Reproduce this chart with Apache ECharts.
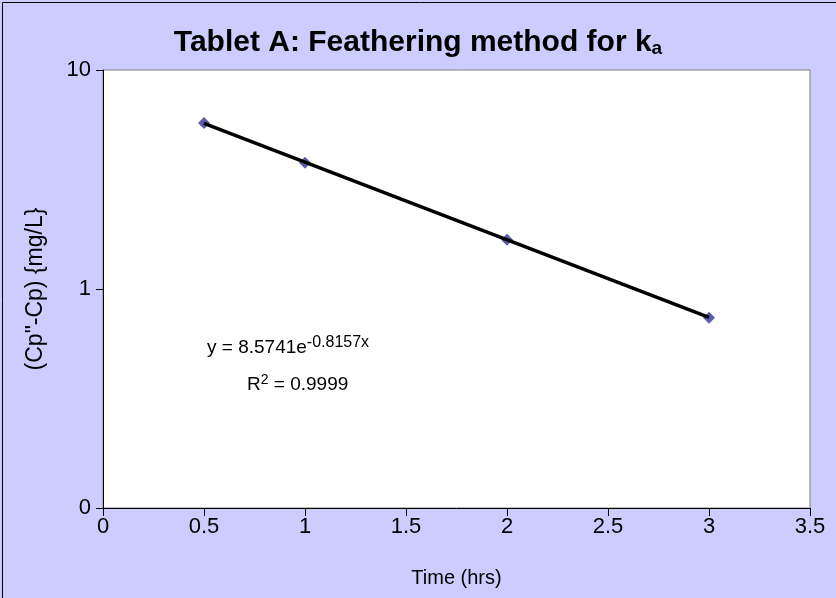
<!DOCTYPE html>
<html>
<head>
<meta charset="utf-8">
<script src="https://cdn.jsdelivr.net/npm/echarts@6/dist/echarts.min.js"></script>
<style>
html,body{margin:0;padding:0;background:#CCCCFF;}
#chart{width:836px;height:598px;}
</style>
</head>
<body>
<div id="chart"></div>
<script>
// Data
var timeHrs = [0.5, 1, 2, 3];
var concDiff = [5.73, 3.77, 1.68, 0.74];
// Exponential trendline endpoints (y = 8.5741e^-0.8157x), over data range
var trendX = [0.5, 3];
var trendY = [5.70, 0.742];
var xTicks = [0, 0.5, 1, 1.5, 2, 2.5, 3, 3.5];
var yTickLabels = {0.1: '0', 1: '1', 10: '10'};

var chart = echarts.init(document.getElementById('chart'));
var font = 'Arial, "Liberation Sans", sans-serif';
var option = {
  backgroundColor: '#CCCCFF',
  animation: false,
  title: {
    text: 'Tablet A: Feathering method for k{sub|a}',
    left: 'center',
    top: 22,
    textStyle: {
      fontFamily: font, fontWeight: 'bold', fontSize: 30, color: '#000',
      rich: { sub: { fontFamily: font, fontWeight: 'bold', fontSize: 19, verticalAlign: 'bottom', padding: [12,0,0,0], color:'#000' } }
    }
  },
  grid: {
    left: 103, right: 26, top: 70, bottom: 90,
    show: true, backgroundColor: '#FFFFFF', borderColor: '#808080', borderWidth: 1
  },
  xAxis: {
    type: 'value', min: 0, max: 3.5, interval: 0.5,
    name: 'Time (hrs)', nameLocation: 'middle', nameGap: 60,
    nameTextStyle: { fontFamily: font, fontSize: 20, color: '#000' },
    axisLine: { show: true, onZero: false, lineStyle: { color: '#000', width: 1 } },
    axisTick: { show: true, inside: false, length: 8, lineStyle: { color: '#000' } },
    axisLabel: { fontFamily: font, fontSize: 22, color: '#000', margin: 8,
      formatter: function (v) { return String(v); } },
    splitLine: { show: false }
  },
  yAxis: {
    type: 'log', logBase: 10, min: 0.1, max: 10,
    name: '(Cp"-Cp) {mg/L}', nameLocation: 'middle', nameGap: 56, nameRotate: 90,
    nameTextStyle: { fontFamily: font, fontSize: 23, color: '#000' },
    axisLine: { show: true, lineStyle: { color: '#000', width: 1 } },
    axisTick: { show: true, inside: false, length: 7, lineStyle: { color: '#000' } },
    minorTick: { show: false },
    axisLabel: { fontFamily: font, fontSize: 22, color: '#000', margin: 12,
      formatter: function (v) { var k = Math.round(v * 10) / 10; return yTickLabels[k] !== undefined ? yTickLabels[k] : ''; } },
    splitLine: { show: false }
  },
  graphic: [
    { type: 'rect', left: 0, top: 0, z: 100, silent: true,
      shape: { x: 0.5, y: 0.5, width: 835, height: 597 },
      style: { fill: 'none', stroke: '#000', lineWidth: 1 } },
    { type: 'text', left: 207, top: 335, z: 100,
      style: { text: 'y = 8.5741e{sup|-0.8157x}', fontFamily: font, fontSize: 19, fill: '#000',
        rich: { sup: { fontFamily: font, fontSize: 16, verticalAlign: 'top', padding: [0,0,10,0] } } } },
    { type: 'text', left: 247, top: 373, z: 100,
      style: { text: 'R{sup|2} = 0.9999', fontFamily: font, fontSize: 19, fill: '#000',
        rich: { sup: { fontFamily: font, fontSize: 14, verticalAlign: 'top', padding: [0,0,10,0] } } } }
  ],
  series: [
    {
      type: 'line', data: trendX.map(function (x, i) { return [x, trendY[i]]; }),
      symbol: 'none', lineStyle: { color: '#000', width: 3.5 }, z: 3, silent: true
    },
    {
      type: 'scatter', data: timeHrs.map(function (x, i) { return [x, concDiff[i]]; }),
      symbol: 'diamond', symbolSize: 12,
      itemStyle: { color: '#333399' }, z: 2
    }
  ]
};
chart.setOption(option);
</script>
</body>
</html>
